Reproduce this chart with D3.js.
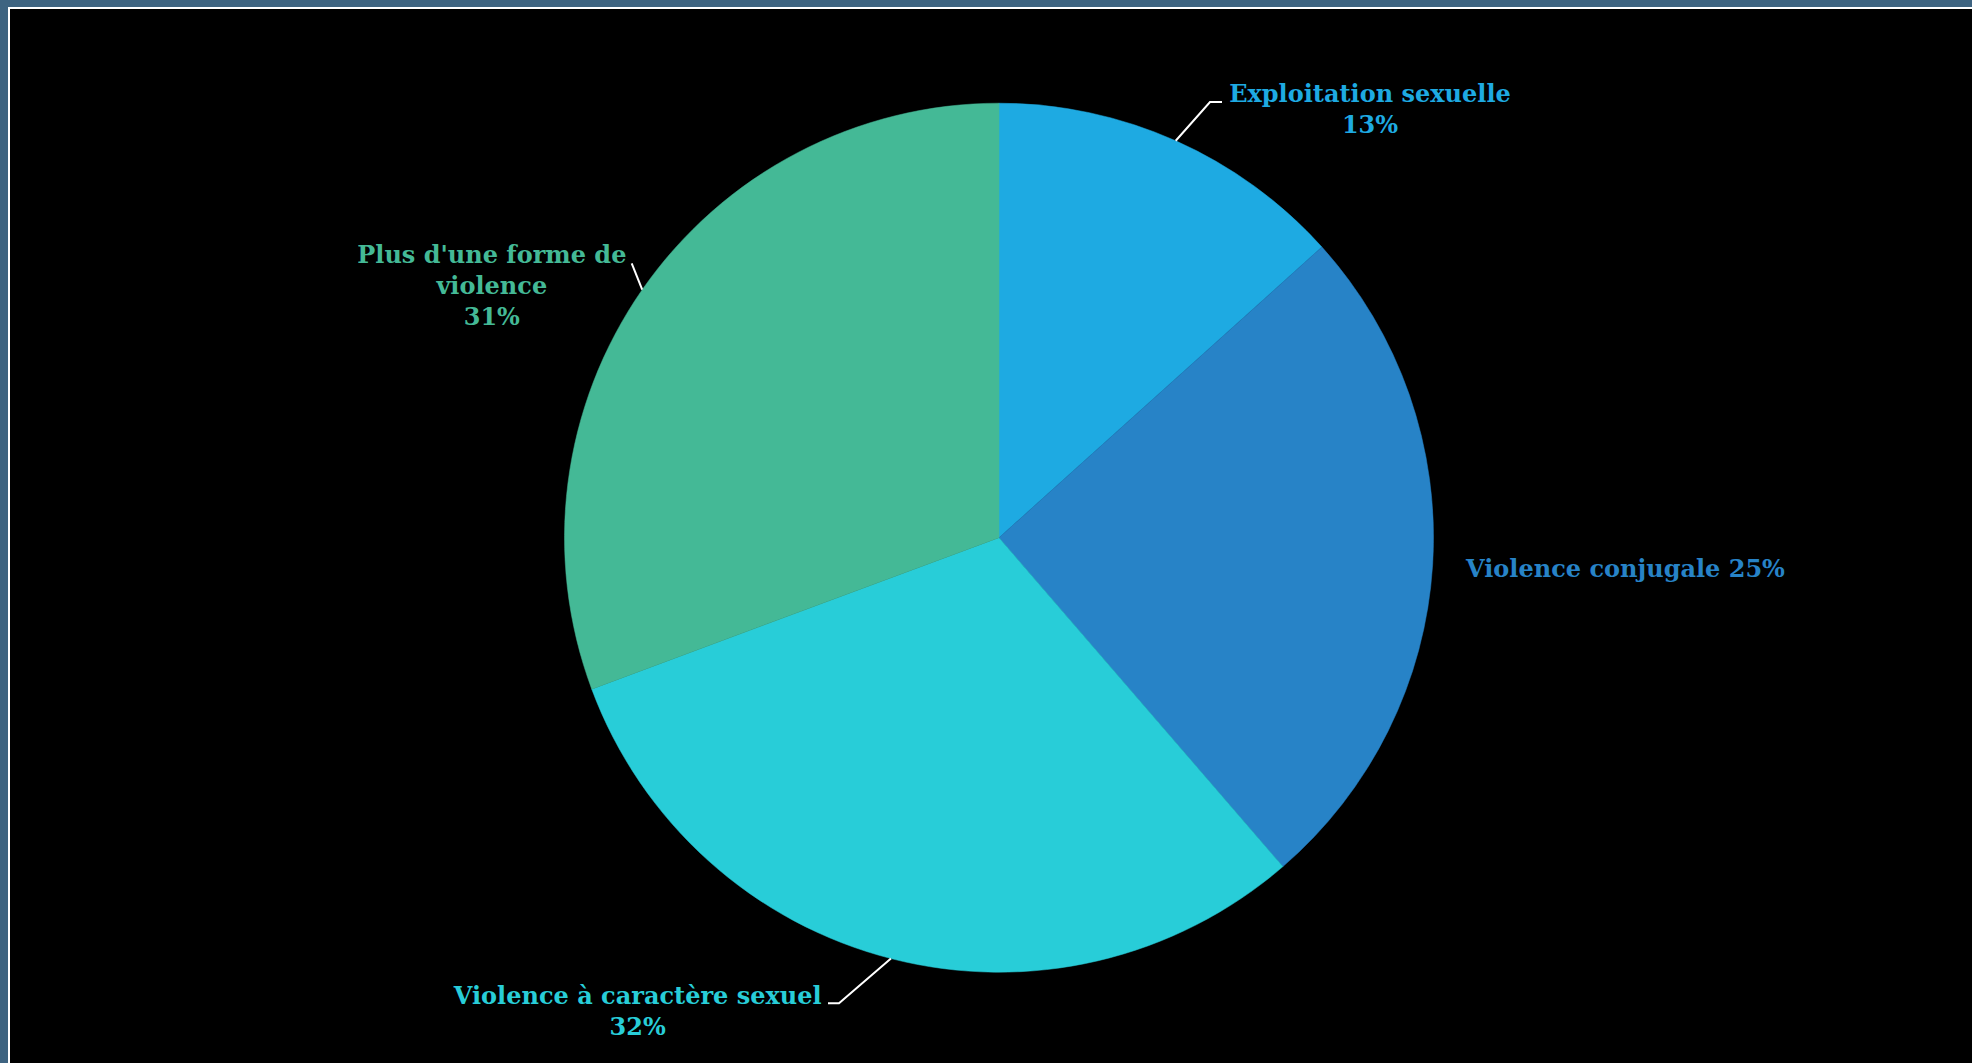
<!DOCTYPE html>
<html>
<head>
<meta charset="utf-8">
<script src="https://cdn.jsdelivr.net/npm/d3@7"></script>
<style>
  html, body { margin: 0; padding: 0; background: #3e6481; }
  svg { display: block; }
</style>
</head>
<body>
<svg id="chart" width="1972" height="1063"></svg>
<script>
// ---- data ----
const categories = ["Exploitation sexuelle", "Violence conjugale", "Violence à caractère sexuel", "Plus d'une forme de violence"];
const values = [10, 19, 23, 23];
const percentLabels = ["13%", "25%", "32%", "31%"];
const colors = ["#1eaae2", "#2783c7", "#28cdd8", "#44b996"];

// label text lines (as wrapped in the reference)
const labelLines = [
  ["Exploitation sexuelle", "13%"],
  ["Violence conjugale 25%"],
  ["Violence à caractère sexuel", "32%"],
  ["Plus d'une forme de", "violence", "31%"]
];

// ---- layout ----
const W = 1972, H = 1063;
const cx = 999, cy = 537.7, R = 434.5;
const lineH = 31;
// label anchor (relative to centre), elbow & end of leader line (relative to centre), or null
const labelLayout = [
  { tx: 371, ty: -436, elbow: [211, -435.7], end: [223, -435.7] },
  { tx: 626.5, ty: 39, elbow: null, end: null },
  { tx: -361.3, ty: 466.3, elbow: [-160, 465.6], end: [-171, 465.6] },
  { tx: -507.2, ty: -274.4, elbow: null, end: [-367.3, -274.4] }
];

const svg = d3.select("#chart");

// frame
svg.append("rect").attr("x", 0).attr("y", 0).attr("width", W).attr("height", H).attr("fill", "#3e6481");
svg.append("rect").attr("x", 8).attr("y", 7).attr("width", W - 8).attr("height", H - 7).attr("fill", "#ffffff");
svg.append("rect").attr("x", 10).attr("y", 9).attr("width", W - 10).attr("height", H - 9).attr("fill", "#000000");

const g = svg.append("g").attr("transform", `translate(${cx},${cy})`);

const pie = d3.pie().sort(null).value(d => d)(values);
const arc = d3.arc().innerRadius(0).outerRadius(R);

g.selectAll("path.slice")
  .data(pie)
  .join("path")
  .attr("class", "slice")
  .attr("d", arc)
  .attr("fill", (d, i) => colors[i])
  .attr("stroke", (d, i) => colors[i])
  .attr("stroke-width", 0.5);

// leader lines
pie.forEach((d, i) => {
  const L = labelLayout[i];
  if (!L.end) return;
  const a = (d.startAngle + d.endAngle) / 2;
  const p0 = [Math.sin(a) * R, -Math.cos(a) * R];
  const pts = [p0];
  if (L.elbow) pts.push(L.elbow);
  pts.push(L.end);
  g.append("path")
    .attr("d", d3.line()(pts))
    .attr("fill", "none")
    .attr("stroke", "#ffffff")
    .attr("stroke-width", 2);
});

// labels
pie.forEach((d, i) => {
  const L = labelLayout[i];
  const t = g.append("text")
    .attr("x", L.tx)
    .attr("y", L.ty)
    .attr("text-anchor", "middle")
    .attr("fill", colors[i])
    .style("font-family", "'DejaVu Serif', Georgia, serif")
    .style("font-weight", "bold")
    .style("font-size", "24px");
  labelLines[i].forEach((line, k) => {
    t.append("tspan").attr("x", L.tx).attr("y", L.ty + k * lineH).text(line);
  });
});
</script>
</body>
</html>
